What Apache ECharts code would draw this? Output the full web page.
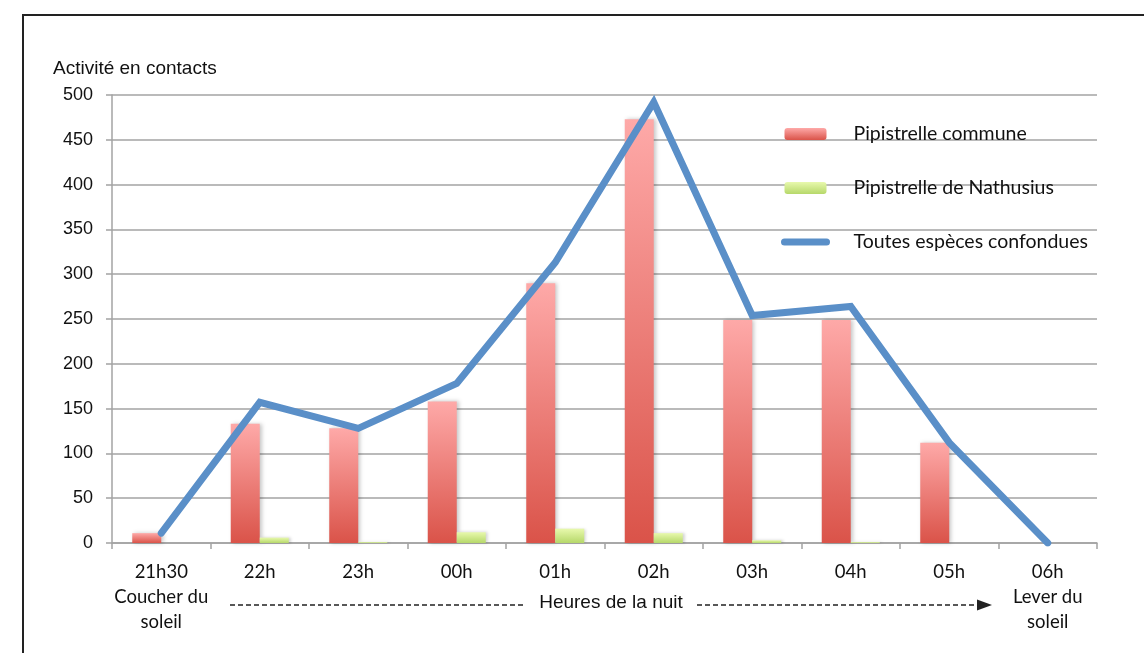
<!DOCTYPE html>
<html>
<head>
<meta charset="utf-8">
<script src="https://cdn.jsdelivr.net/npm/echarts@6/dist/echarts.min.js"></script>
<style>
  html, body { margin: 0; padding: 0; background: #fff; }
  #chart { width: 1144px; height: 653px; }
</style>
</head>
<body>
<div id="chart"></div>
<script>
// Heures d'écoute, du coucher au lever du soleil
const hours = [
  '21h30\nCoucher du\nsoleil', '22h', '23h', '00h', '01h',
  '02h', '03h', '04h', '05h', '06h\nLever du\nsoleil'
];
// Contacts par espèce et par heure
const pipistrelleCommune = [11, 133, 128, 158, 290, 473, 249, 249, 112, 0];
const pipistrelleNathusius = [0, 6, 1, 12, 16, 11, 3, 1, 0, 0];
const toutesEspeces = [11, 157, 128, 178, 313, 492, 254, 264, 112, 0];
const yTicks = { min: 0, max: 500, interval: 50 };

const chart = echarts.init(document.getElementById('chart'));

const gridColor = '#a3a3a3';
const sansFont = '"Liberation Sans", Arial, sans-serif';
const humanistFont = 'Lato, "Open Sans", sans-serif';
const lineColor = '#5a8fc8';

chart.setOption({
  backgroundColor: '#ffffff',
  animation: false,
  title: {
    text: 'Activité en contacts',
    left: 48, top: 54,
    textStyle: { fontFamily: sansFont, fontSize: 19, fontWeight: 'normal', color: '#111' }
  },
  legend: {
    orient: 'vertical',
    left: 776, top: 119,
    itemWidth: 42, itemHeight: 12, itemGap: 34,
    textStyle: { fontFamily: humanistFont, fontSize: 19.5, color: '#111', padding: [0, 0, 0, 22] },
    data: [
      'Pipistrelle commune',
      'Pipistrelle de Nathusius',
      {
        name: 'Toutes espèces confondues',
        itemStyle: { opacity: 0 },
        lineStyle: { width: 7, color: lineColor, cap: 'round' }
      }
    ]
  },
  grid: { left: 112, right: 47, top: 95, bottom: 110, containLabel: false },
  xAxis: {
    type: 'category',
    data: hours,
    boundaryGap: true,
    axisLine: { lineStyle: { color: gridColor, width: 1.5 } },
    axisTick: { show: true, length: 6, lineStyle: { color: gridColor, width: 1.5 } },
    axisLabel: {
      fontFamily: humanistFont, fontSize: 18.5, color: '#111',
      lineHeight: 25, margin: 17, interval: 0
    }
  },
  yAxis: {
    type: 'value',
    min: yTicks.min, max: yTicks.max, interval: yTicks.interval,
    axisLine: { show: true, lineStyle: { color: gridColor, width: 1.5 } },
    axisTick: { show: true, length: 6, lineStyle: { color: gridColor, width: 1.5 } },
    axisLabel: { fontFamily: sansFont, fontSize: 18, color: '#111', margin: 19 },
    splitLine: { lineStyle: { color: gridColor, width: 1.5 } }
  },
  series: [
    {
      name: 'Pipistrelle commune',
      type: 'bar',
      data: pipistrelleCommune,
      barWidth: 29,
      barGap: '0%',
      itemStyle: {
        color: new echarts.graphic.LinearGradient(0, 0, 0, 1, [
          { offset: 0, color: '#fea9a8' },
          { offset: 1, color: '#da5349' }
        ]),
        shadowColor: 'rgba(0,0,0,0.22)', shadowBlur: 4, shadowOffsetX: 2
      }
    },
    {
      name: 'Pipistrelle de Nathusius',
      type: 'bar',
      data: pipistrelleNathusius,
      barWidth: 29,
      barGap: '0%',
      itemStyle: {
        color: new echarts.graphic.LinearGradient(0, 0, 0, 1, [
          { offset: 0, color: '#e8f9ad' },
          { offset: 1, color: '#b6d86a' }
        ]),
        shadowColor: 'rgba(0,0,0,0.18)', shadowBlur: 3, shadowOffsetX: 2
      }
    },
    {
      name: 'Toutes espèces confondues',
      type: 'line',
      data: toutesEspeces,
      symbol: 'none',
      z: 5,
      lineStyle: { color: lineColor, width: 7, cap: 'round', join: 'miter' },
      itemStyle: { color: lineColor }
    }
  ],
  graphic: [
    {
      type: 'rect',
      shape: { x: 23, y: 15, width: 1200, height: 700 },
      style: { fill: 'none', stroke: '#222', lineWidth: 2 },
      silent: true
    },
    {
      type: 'line',
      shape: { x1: 230, y1: 605, x2: 526, y2: 605 },
      style: { stroke: '#222', lineWidth: 1.5, lineDash: [5, 3] }
    },
    {
      type: 'text',
      x: 611, y: 603,
      style: {
        text: 'Heures de la nuit', font: '19px ' + sansFont, fill: '#111',
        align: 'center', verticalAlign: 'middle'
      }
    },
    {
      type: 'line',
      shape: { x1: 697, y1: 605, x2: 978, y2: 605 },
      style: { stroke: '#222', lineWidth: 1.5, lineDash: [5, 3] }
    },
    {
      type: 'polygon',
      shape: { points: [[977, 599.5], [992, 605], [977, 610.5]] },
      style: { fill: '#222' }
    }
  ]
});
</script>
</body>
</html>
